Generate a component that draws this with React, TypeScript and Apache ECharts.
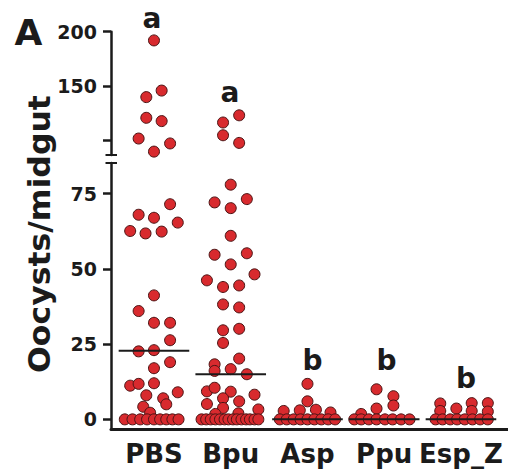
import React, { useEffect, useRef } from 'react';
import * as echarts from 'echarts';

const categories = ['PBS', 'Bpu', 'Asp', 'Ppu', 'Esp_Z'];
const groupLetters = ['a', 'a', 'b', 'b', 'b'];

// Each point: [spread within its column (category units), oocysts per midgut]
const pbsPoints = [
  [0, 192], [0.1, 146], [-0.1, 140], [-0.1, 121], [0.1, 118], [-0.2, 102], [0.21, 97.5], [0, 90],
  [0.21, 71.5], [-0.2, 68], [0, 67], [0.31, 65.4], [-0.31, 62.6], [-0.11, 61.8], [0.1, 62.4],
  [0, 41.2], [-0.2, 36], [0, 32.1], [0.21, 32.1], [0.21, 26.3], [-0.2, 22.6], [0, 23], [0.21, 19],
  [0, 17], [-0.31, 11.2], [-0.2, 11.8], [0, 12], [-0.1, 8], [0.31, 9], [0.12, 7], [0.16, 5],
  [-0.14, 4.2], [-0.05, 2.2],
  [-0.38, 0], [-0.28, 0], [-0.18, 0], [-0.09, 0], [0, 0], [0.08, 0], [0.16, 0], [0.24, 0], [0.32, 0],
];
const bpuPoints = [
  [0.11, 123.3], [-0.1, 116.7], [-0.1, 105], [0.11, 98],
  [0, 78], [0.21, 73.2], [-0.21, 72.1], [0, 70.2], [0, 61], [-0.21, 54.7], [0.21, 55.2], [0, 51.5],
  [0.31, 48.2], [-0.31, 46.2], [-0.1, 44], [0.11, 44.5], [-0.1, 38.2], [0.11, 37.2], [-0.1, 29.6],
  [0.11, 30.1], [-0.1, 25.4], [0.11, 20.2], [-0.21, 18.3], [-0.21, 16.1], [0, 16.7], [0.21, 15],
  [-0.31, 9.3], [-0.21, 10.5], [0, 9.2], [-0.1, 7], [0.11, 6], [0.31, 8.2], [-0.31, 5.1],
  [-0.1, 3.8], [0.36, 3.3], [0.1, 2], [-0.2, 1.8],
  [-0.38, 0], [-0.32, 0], [-0.26, 0], [-0.2, 0], [-0.14, 0], [-0.08, 0], [-0.03, 0], [0.03, 0],
  [0.08, 0], [0.14, 0], [0.2, 0], [0.25, 0], [0.31, 0], [0.36, 0],
];
const aspPoints = [
  [0, 11.8], [0, 6], [-0.31, 2.8], [-0.1, 3], [0.11, 3.2], [0.3, 2.3],
  [-0.36, 0], [-0.27, 0], [-0.18, 0], [-0.09, 0], [0, 0], [0.09, 0], [0.18, 0], [0.27, 0], [0.36, 0],
];
const ppuPoints = [
  [-0.1, 10], [0.12, 7.7], [0.12, 4.6], [-0.1, 3.6], [-0.3, 1.8],
  [-0.39, 0], [-0.3, 0], [-0.2, 0], [-0.1, 0], [0.01, 0], [0.11, 0], [0.22, 0], [0.33, 0],
];
const espPoints = [
  [-0.27, 5.3], [-0.27, 2.8], [-0.06, 3.6], [0.14, 5.4], [0.14, 2.8], [0.35, 5.4], [0.35, 2.6],
  [-0.33, 0], [-0.24, 0], [-0.14, 0], [-0.05, 0], [0.05, 0], [0.15, 0], [0.25, 0], [0.35, 0],
];
const groups = [pbsPoints, bpuPoints, aspPoints, ppuPoints, espPoints];

// Broken y axis: lower segment and upper segment
const lowerRange = [-3.3, 85.2];
const upperRange = [86.9, 200];
const lowerTicks = [0, 25, 50, 75];
const upperTicks = [100, 150, 200];
const upperLabels = [150, 200];

const FONT = 'DejaVu Sans';
const INK = '#1b1b1b';
const DOT = '#d82a2e';

function median(values: number[]) {
  const s = [...values].sort((a, b) => a - b);
  const n = s.length;
  return n % 2 ? s[(n - 1) / 2] : (s[n / 2 - 1] + s[n / 2]) / 2;
}

export default function App() {
  const ref = useRef<HTMLDivElement>(null);

  useEffect(() => {
    if (!ref.current) return;
    const chart = echarts.init(ref.current, undefined, { renderer: 'svg' });

    const left = 111;
    const upperTop = 31.7;
    const upperBottom = 155;
    const lowerTop = 163;
    const lowerBottom = 429.3;

    const upperData: number[][] = [];
    const lowerData: number[][] = [];
    groups.forEach((pts, i) => {
      pts.forEach(([dx, v]) => {
        (v > lowerRange[1] ? upperData : lowerData).push([i + dx, v]);
      });
    });
    const medians = groups.map((pts, i) => [i, median(pts.map((p) => p[1]))]);

    const xRange = [-0.56, 4.613];
    const yAxisCommon = {
      type: 'value' as const,
      splitLine: { show: false },
      axisLine: { show: true, onZero: false, lineStyle: { color: INK, width: 2.5 } },
      axisTick: { show: true, length: 8, lineStyle: { color: INK, width: 2.5 } },
      axisLabel: { color: INK, fontFamily: FONT, fontWeight: 'bold' as const, fontSize: 19, margin: 14 },
    };
    const dotStyle = { color: DOT, opacity: 1, borderColor: '#4a1414', borderWidth: 1 };

    const letterPos = [
      [152, 18.6], [230, 92], [312.5, 360.3], [386.5, 360.3], [466, 378.6],
    ];

    chart.setOption({
      animation: false,
      textStyle: { fontFamily: FONT },
      grid: [
        { left, right: 0, top: upperTop, height: upperBottom - upperTop },
        { left, right: 0, top: lowerTop, height: lowerBottom - lowerTop },
      ],
      xAxis: [
        { gridIndex: 0, type: 'value', min: xRange[0], max: xRange[1], show: false },
        {
          gridIndex: 1,
          type: 'value',
          min: xRange[0],
          max: xRange[1],
          splitLine: { show: false },
          axisLine: { show: true, onZero: false, lineStyle: { color: INK, width: 3 } },
          axisTick: { show: false },
          axisLabel: {
            customValues: categories.map((_, i) => i),
            formatter: (v: number) => categories[Math.round(v)] ?? '',
            color: INK,
            fontFamily: FONT,
            fontWeight: 'bold',
            fontSize: 26,
            margin: 12,
          },
        },
      ],
      yAxis: [
        {
          ...yAxisCommon,
          gridIndex: 0,
          min: upperRange[0],
          max: upperRange[1],
          axisTick: { ...yAxisCommon.axisTick, customValues: upperTicks },
          axisLabel: { ...yAxisCommon.axisLabel, customValues: upperLabels },
        },
        {
          ...yAxisCommon,
          gridIndex: 1,
          min: lowerRange[0],
          max: lowerRange[1],
          axisTick: { ...yAxisCommon.axisTick, customValues: lowerTicks },
          axisLabel: { ...yAxisCommon.axisLabel, customValues: lowerTicks },
        },
      ],
      series: [
        {
          type: 'scatter',
          xAxisIndex: 0,
          yAxisIndex: 0,
          data: upperData,
          symbolSize: 11,
          itemStyle: dotStyle,
          z: 2,
        },
        {
          type: 'scatter',
          xAxisIndex: 1,
          yAxisIndex: 1,
          data: lowerData,
          symbolSize: 11,
          itemStyle: dotStyle,
          z: 2,
        },
        {
          type: 'custom',
          xAxisIndex: 1,
          yAxisIndex: 1,
          data: medians,
          z: 5,
          renderItem: (_params: any, api: any) => {
            const c = api.value(0);
            const m = api.value(1);
            const a = api.coord([c - 0.46, m]);
            const b = api.coord([c + 0.46, m]);
            return {
              type: 'line',
              shape: { x1: a[0], y1: a[1], x2: b[0], y2: b[1] },
              style: { stroke: INK, lineWidth: 2 },
            };
          },
        },
      ],
      graphic: [
        {
          type: 'text',
          x: 28.5,
          y: 32.5,
          style: { text: 'A', font: `bold 36px "${FONT}"`, fill: INK, align: 'center', verticalAlign: 'middle' },
        },
        {
          type: 'text',
          x: 39,
          y: 234,
          rotation: Math.PI / 2,
          scaleX: 1.05,
          style: {
            text: 'Oocysts/midgut',
            font: `bold 30px "${FONT}"`,
            fill: INK,
            align: 'center',
            verticalAlign: 'middle',
          },
        },
        // axis break marks
        {
          type: 'line',
          shape: { x1: left - 5.5, y1: upperBottom, x2: left + 6, y2: upperBottom },
          style: { stroke: INK, lineWidth: 2 },
        },
        {
          type: 'line',
          shape: { x1: left - 5.5, y1: lowerTop, x2: left + 6, y2: lowerTop },
          style: { stroke: INK, lineWidth: 2 },
        },
        ...groupLetters.map((t, i) => ({
          type: 'text',
          x: letterPos[i][0],
          y: letterPos[i][1],
          style: { text: t, font: `bold 28px "${FONT}"`, fill: INK, align: 'center', verticalAlign: 'middle' },
        })),
      ],
    });

    return () => chart.dispose();
  }, []);

  return (
    <div
      ref={ref}
      style={{ position: 'absolute', left: 0, top: 0, width: 508, height: 471, background: '#fff' }}
    />
  );
}
